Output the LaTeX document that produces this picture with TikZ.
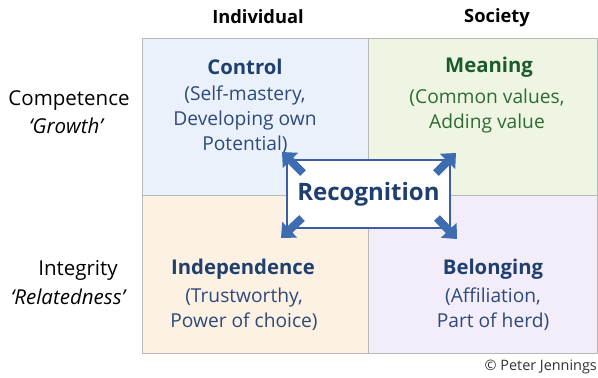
\documentclass[tikz,border=0pt]{standalone}
\usepackage{fontspec}
\setmainfont{Open Sans}
\usetikzlibrary{arrows.meta}
\definecolor{qblue}{HTML}{EAF1FB}
\definecolor{qgreen}{HTML}{EEF6E3}
\definecolor{qorange}{HTML}{FCF1E2}
\definecolor{qlav}{HTML}{F2EDF9}
\definecolor{gridc}{HTML}{B8B8B8}
\definecolor{navy}{HTML}{1F3F6E}
\definecolor{navysub}{HTML}{2E4A7A}
\definecolor{dgreen}{HTML}{1D5A2C}
\definecolor{gsub}{HTML}{2F6A33}
\definecolor{arrowc}{HTML}{3D6CB0}
\definecolor{boxc}{HTML}{3B5EA6}
\tikzset{
  x=1pt, y=-1pt,
  quad/.style={draw=gridc, line width=0.8pt},
  title/.style={font=\fontsize{20.3}{24}\selectfont\bfseries, inner sep=0pt, anchor=center},
  sub/.style={font=\fontsize{19.2}{25}\selectfont, inner sep=0pt, align=center, anchor=north},
  header/.style={font=\fontsize{18.3}{22}\selectfont\bfseries, inner sep=0pt},
  side/.style={font=\fontsize{20.5}{24}\selectfont, inner sep=0pt},
  sideit/.style={font=\fontsize{20.5}{24}\selectfont\itshape, inner sep=0pt},
  blockarrow/.style={draw=arrowc, line width=8pt, -{Triangle[width=21pt,length=12pt]}}
}
\begin{document}
\begin{tikzpicture}
\useasboundingbox (0,0) rectangle (598,378);
\fill[white] (0,0) rectangle (598,378);
% quadrants
\fill[qblue] (142,38) rectangle (368,195);
\fill[qgreen] (368,38) rectangle (597,195);
\fill[qorange] (142,195) rectangle (368,353);
\fill[qlav] (368,195) rectangle (597,353);
\draw[quad] (142,38) rectangle (597,353);
\draw[quad] (368,38) -- (368,353);
\draw[quad] (142,195) -- (597,195);
% headers
\node[header] (hind) at (258,17) {Individual};
\node[header] (hsoc) at (497,18) {Society};
% side labels
\node[side] (comp) at (69,101) {Competence};
\node[sideit] (grow) at (66,126) {‘Growth’};
\node[side] (integ) at (78,270) {Integrity};
\node[sideit] (relat) at (68,297) {‘Relatedness’};
% quadrant texts
\node[title, text=navy] (ctl) at (245,67) {Control};
\node[sub, text=navysub] (ctls) at (245,86) {(Self-mastery,\\Developing own\\Potential)};
\node[title, text=dgreen] (mean) at (489,67) {Meaning};
\node[sub, text=gsub] (means) at (487,89) {(Common values,\\Adding value};
\node[title, text=navy] (ind) at (243,269) {Independence};
\node[sub, text=navysub] (inds) at (244,288) {(Trustworthy,\\Power of choice)};
\node[title, text=navy] (bel) at (493,269) {Belonging};
\node[sub, text=navysub] (bels) at (493,288) {(Affiliation,\\Part of herd)};
% recognition
\node[draw=boxc, line width=1.4pt, fill=white, minimum width=163pt, minimum height=68pt,
      font=\fontsize{24}{28}\selectfont\bfseries, text=navy, inner sep=0pt] (rec) at (368.5,194) {Recognition};
\coordinate (tipA) at (282,152);
\coordinate (tipB) at (456,153);
\coordinate (tipC) at (281,238);
\coordinate (tipD) at (457,239);
\coordinate (tailA) at (303,173);
\coordinate (tailB) at (436,173);
\coordinate (tailC) at (302,218);
\coordinate (tailD) at (437,218);
\draw[blockarrow] (tailA) -- (tipA);
\draw[blockarrow] (tailB) -- (tipB);
\draw[blockarrow] (tailC) -- (tipC);
\draw[blockarrow] (tailD) -- (tipD);
% copyright
\node[font=\fontsize{14.4}{17}\selectfont, text=black!80, inner sep=0pt, anchor=east] (copy) at (597,367) {© Peter Jennings};
\end{tikzpicture}
\end{document}
